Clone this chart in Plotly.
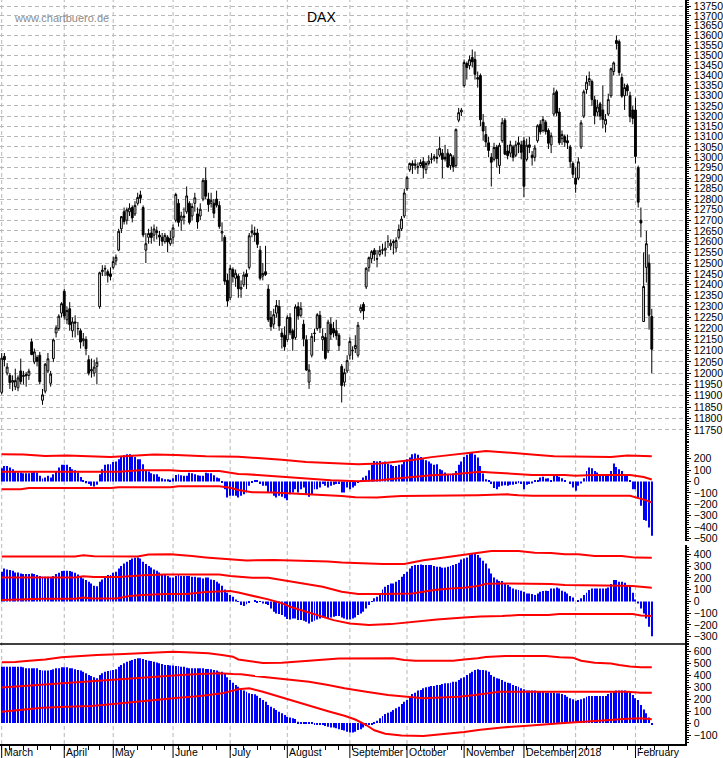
import pandas as pd
import plotly.graph_objects as go

# ---------------- trading calendar ----------------
holidays = ['2017-04-14', '2017-04-17', '2017-05-01', '2017-06-05', '2017-10-31',
            '2017-12-25', '2017-12-26', '2018-01-01']
dates = pd.bdate_range('2017-03-01', '2018-02-09')
dates = dates[~dates.isin(pd.to_datetime(holidays))]
idx = list(range(len(dates)))

month_labels = ['March', 'April', 'May', 'June', 'July', 'August', 'September',
                'October', 'November', 'December', '2018', 'February']

# ---------------- DAX daily OHLC ----------------
open_ = [
    11915, 12075, 12000, 11990, 11960, 11940, 11935, 12010, 11985, 11995,
    11990, 12140, 12050, 12070, 12080, 11880, 11920, 12010, 11955, 12065,
    12180, 12200, 12270,
    12370, 12240, 12290, 12190, 12230, 12200, 12190, 12145, 12150, 12060,
    12010, 12000, 12030, 12300, 12460, 12475, 12460, 12450,
    12480, 12510, 12560, 12660, 12740, 12700, 12740, 12760, 12730, 12780,
    12820, 12760, 12560, 12620, 12640, 12630, 12650, 12630, 12620, 12600,
    12620, 12590,
    12620, 12700, 12780, 12700, 12720, 12740, 12780, 12720, 12780, 12730,
    12720, 12800, 12890, 12800, 12780, 12780, 12800, 12770, 12640, 12620,
    12420,
    12340, 12470, 12430, 12440, 12380, 12400, 12450, 12480, 12650, 12640,
    12640, 12560, 12440, 12460, 12380, 12250, 12220, 12270, 12300, 12180,
    12170,
    12150, 12250, 12190, 12160, 12300, 12260, 12220, 12150, 11960, 12080,
    12180, 12200, 12260, 12150, 12160, 12100, 12220, 12200, 12190, 12170,
    12030, 11960, 12010,
    12080, 12100, 12110, 12080, 12280, 12310, 12390, 12480, 12520, 12560,
    12520, 12540, 12560, 12560, 12600, 12580, 12600, 12570, 12620, 12660,
    12720,
    12850, 12940, 12960, 12960, 12950, 12960, 12980, 12940, 12970, 12990,
    12995, 13000, 13010, 13020, 13000, 13020, 12960, 13000, 12960, 13180,
    13220,
    13350, 13460, 13450, 13490, 13480, 13390, 13400, 13170, 13110, 13070,
    13000, 12990, 13050, 12960, 13080, 13180, 13030, 13020, 13050, 13010,
    13070, 13060,
    13080, 12990, 13060, 13010, 13000, 13080, 13160, 13130, 13170, 13130,
    13060, 13210, 13320, 13220, 13090, 13100, 13080, 13050, 12970,
    12900, 12900, 13050, 13200, 13330, 13370, 13370, 13280, 13220, 13260,
    13230, 13160, 13210, 13300, 13420, 13575, 13570, 13390, 13300, 13350,
    13300, 13230,
    13230, 12950, 12700, 12232, 12480, 12500, 12255,
]
high_ = [
    12090, 12090, 12045, 12000, 11990, 12020, 11990, 12065, 12010, 12005,
    12020, 12155, 12110, 12080, 12095, 11930, 12045, 12090, 12010, 12155,
    12215, 12265, 12320,
    12380, 12300, 12320, 12250, 12260, 12230, 12200, 12180, 12165, 12080,
    12065, 12060, 12070, 12460, 12490, 12490, 12470, 12480,
    12530, 12540, 12660, 12720, 12760, 12760, 12780, 12770, 12790, 12830,
    12840, 12770, 12640, 12660, 12670, 12680, 12670, 12650, 12640, 12640,
    12630, 12650,
    12680, 12830, 12800, 12740, 12760, 12860, 12790, 12780, 12830, 12760,
    12780, 12900, 12950, 12830, 12830, 12800, 12840, 12790, 12690, 12630,
    12450,
    12490, 12480, 12470, 12450, 12420, 12460, 12470, 12640, 12680, 12670,
    12660, 12580, 12500, 12580, 12400, 12280, 12290, 12330, 12330, 12200,
    12210,
    12260, 12270, 12200, 12310, 12320, 12320, 12240, 12170, 12040, 12180,
    12200, 12270, 12280, 12200, 12180, 12240, 12250, 12230, 12240, 12180,
    12040, 12020, 12080,
    12160, 12120, 12170, 12230, 12310, 12320, 12480, 12530, 12560, 12570,
    12560, 12580, 12590, 12600, 12630, 12610, 12610, 12620, 12680, 12720,
    12850,
    12910, 12975, 12985, 12990, 12975, 12990, 13000, 12980, 13010, 13020,
    13015, 13040, 13100, 13040, 13060, 13040, 13020, 13010, 13140, 13240,
    13240,
    13480, 13470, 13500, 13530, 13520, 13420, 13410, 13210, 13150, 13100,
    13020, 13070, 13060, 13070, 13190, 13190, 13060, 13080, 13060, 13080,
    13100, 13080,
    13100, 13090, 13100, 13030, 13060, 13160, 13180, 13200, 13180, 13140,
    13120, 13340, 13330, 13240, 13130, 13110, 13110, 13060, 12980,
    12950, 13000, 13180, 13330, 13400, 13420, 13380, 13300, 13280, 13270,
    13350, 13210, 13310, 13440, 13470, 13600, 13580, 13410, 13360, 13360,
    13320, 13250,
    13290, 12960, 12760, 12550, 12650, 12540, 12290,
]
low_ = [
    11905, 12030, 11990, 11930, 11920, 11925, 11920, 11950, 11950, 11940,
    11970, 12080, 12040, 12030, 11950, 11860, 11910, 12000, 11940, 12050,
    12160, 12190, 12250,
    12240, 12220, 12190, 12160, 12160, 12170, 12110, 12120, 12080, 11990,
    11980, 11985, 11950, 12290, 12440, 12440, 12410, 12420,
    12470, 12490, 12555, 12640, 12680, 12680, 12720, 12690, 12720, 12770,
    12780, 12620, 12500, 12590, 12590, 12600, 12610, 12580, 12580, 12590,
    12550, 12580,
    12590, 12690, 12670, 12650, 12680, 12730, 12680, 12700, 12740, 12660,
    12700, 12790, 12800, 12740, 12760, 12710, 12760, 12660, 12600, 12400,
    12300,
    12330, 12410, 12390, 12340, 12340, 12390, 12380, 12470, 12620, 12600,
    12570, 12420, 12420, 12440, 12230, 12190, 12200, 12250, 12190, 12110,
    12100,
    12140, 12170, 12100, 12150, 12240, 12250, 12120, 12010, 11930, 12070,
    12140, 12190, 12180, 12100, 12060, 12090, 12150, 12160, 12150, 12100,
    11870, 11940, 12000,
    12060, 12060, 12090, 12070, 12270, 12240, 12380, 12460, 12500, 12510,
    12480, 12530, 12540, 12530, 12570, 12560, 12540, 12550, 12610, 12650,
    12710,
    12840, 12930, 12920, 12940, 12920, 12950, 12900, 12920, 12960, 12970,
    12980, 12970, 13000, 12900, 12980, 12950, 12940, 12930, 12950, 13170,
    13200,
    13340, 13380, 13430, 13440, 13380, 13340, 13150, 13080, 13050, 13000,
    12860, 12980, 12950, 12920, 13070, 13010, 12990, 13000, 12980, 13000,
    13020, 12990,
    12810, 12980, 13020, 12960, 12980, 13070, 13110, 13120, 13110, 13040,
    13020, 13200, 13200, 13060, 13060, 13050, 13040, 12950, 12900,
    12830, 12890, 13040, 13190, 13310, 13350, 13250, 13160, 13200, 13180,
    13140, 13120, 13200, 13290, 13400, 13530, 13400, 13290, 13230, 13300,
    13170, 13160,
    12970, 12760, 12620, 12230, 12410, 12195, 12000,
]
close_ = [
    12067, 12060, 12027, 11958, 11967, 11967, 11979, 11963, 11990, 11988,
    12009, 12083, 12095, 12053, 11962, 11904, 12040, 12064, 11996, 12149,
    12203, 12256, 12313,
    12257, 12282, 12218, 12230, 12225, 12200, 12139, 12154, 12109, 12000,
    12016, 12027, 12049, 12455, 12467, 12473, 12443, 12438,
    12507, 12527, 12648, 12717, 12694, 12749, 12757, 12711, 12770, 12808,
    12804, 12631, 12590, 12638, 12619, 12659, 12642, 12621, 12602, 12629,
    12598, 12615,
    12664, 12822, 12690, 12720, 12714, 12815, 12690, 12765, 12806, 12692,
    12752, 12888, 12814, 12774, 12794, 12733, 12771, 12671, 12647, 12416,
    12325,
    12475, 12437, 12453, 12381, 12388, 12445, 12437, 12627, 12641, 12632,
    12587, 12430, 12452, 12447, 12240, 12209, 12263, 12305, 12212, 12162,
    12118,
    12251, 12181, 12154, 12298, 12257, 12292, 12154, 12014, 12014, 12165,
    12178, 12263, 12203, 12165, 12066, 12229, 12174, 12180, 12168, 12123,
    11945, 12002, 12056,
    12142, 12102, 12124, 12215, 12296, 12280, 12476, 12525, 12553, 12540,
    12519, 12559, 12561, 12569, 12600, 12592, 12595, 12605, 12657, 12705,
    12829,
    12902, 12970, 12970, 12968, 12955, 12975, 12949, 12970, 12982, 12992,
    13003, 12995, 13043, 12990, 12992, 12953, 13013, 12953, 13134, 13217,
    13229,
    13465, 13440, 13479, 13468, 13406, 13382, 13182, 13127, 13074, 13033,
    12976, 13047, 12994, 13058, 13168, 13015, 13008, 13060, 13000, 13060,
    13061, 13024,
    12861, 13058, 13048, 12998, 13045, 13153, 13123, 13183, 13125, 13068,
    13104, 13312, 13215, 13070, 13110, 13073, 13070, 12979, 12918,
    12871, 12978, 13167, 13320, 13367, 13385, 13281, 13202, 13245, 13200,
    13183, 13184, 13281, 13434, 13463, 13560, 13415, 13298, 13340, 13324,
    13197, 13189,
    13004, 12785, 12687, 12392, 12590, 12260, 12107,
]

# ---------------- indicator 1 (short) ----------------
osc1 = [
    117, 137, 137, 123, 108, 93, 79, 79, 73, 73,
    73, 79, 90, 79, 50, 26, 35, 50, 35, 64,
    88, 123, 146, 146, 146, 128, 108, 99, 79, 40,
    12, -15, -23, -38, -44, -29, 64, 108, 146, 152,
    152, 172, 175, 196, 216, 231, 239, 239, 225, 216,
    196, 196, 152, 93, 88, 73, 64, 64, 41, 29,
    20, 20, 15, 29, 58, 64, 55, 50, 50, 76,
    73, 64, 55, 50, 50, 76, 73, 73, 55, 35,
    29, -9, -67, -140, -126, -126, -126, -140, -126, -111,
    -96, -38, -9, 12, 6, -23, -38, -38, -96, -96,
    -126, -140, -126, -134, -146, -164, -111, -96, -67, -96,
    -67, -53, -111, -134, -111, -67, -67, -53, -23, -38,
    -53, -38, -29, -23, -23, -96, -96, -53, -67, -53,
    -38, -9, 12, 35, 50, 99, 146, 181, 175, 181,
    166, 175, 158, 146, 137, 137, 146, 152, 187, 196,
    210, 239, 245, 234, 216, 196, 187, 175, 158, 146,
    152, 108, 99, 79, 64, 58, 70, 93, 146, 175,
    216, 234, 254, 254, 234, 210, 137, 70, 20, 6,
    -23, -58, -67, -47, -38, -32, -38, -29, -29, -23,
    -15, -23, -67, -29, -23, -18, 6, 12, 35, 41,
    26, 29, 12, 64, 64, 41, 29, 12, 0, -23,
    -53, -82, -38, -18, 29, 93, 123, 117, 93, 79,
    64, 64, 58, 64, 93, 158, 128, 108, 93, 64,
    64, 12, -67, -67, -146, -213, -339, -345, -403, -476,
]
band1_upper_x = [0, 8, 16, 24, 32, 40, 48, 56, 64, 75, 87, 96, 103, 112, 122, 131, 139, 145,
                 151, 158, 166, 172, 178, 183, 188, 196, 203, 215, 224, 230, 234, 239]
band1_upper = [239, 237, 224, 228, 222, 216, 226, 238, 232, 222, 218, 204, 190, 172, 158, 152,
               158, 172, 188, 214, 234, 252, 268, 260, 248, 234, 222, 216, 216, 229, 224, 222]
band1_mid_x = [0, 43, 47, 51, 62, 66, 80, 84, 87, 90, 96, 103, 111, 121, 131, 139, 145, 151,
               158, 166, 172, 176, 180, 184, 195, 207, 211, 215, 220, 231, 233, 236, 239]
band1_mid = [85, 85, 93, 99, 99, 93, 92, 80, 66, 64, 55, 41, 26, 12, 3, 12, 26, 41,
             55, 64, 76, 85, 80, 73, 58, 56, 50, 54, 58, 58, 50, 40, 18]
band1_lower_x = [0, 7, 10, 40, 43, 62, 65, 80, 84, 87, 92, 100, 107, 113, 119, 125, 130, 138,
                 142, 147, 175, 186, 190, 195, 231, 233, 235, 237, 239]
band1_lower = [-67, -67, -58, -58, -50, -50, -41, -41, -55, -74, -94, -96, -105, -111, -120,
               -127, -138, -140, -134, -127, -120, -113, -120, -126, -126, -138, -152, -166, -184]

# ---------------- indicator 2 (medium) ----------------
osc2 = [
    252, 280, 272, 266, 261, 246, 246, 238, 232, 232,
    232, 238, 232, 224, 215, 210, 210, 210, 204, 215,
    232, 244, 258, 261, 261, 258, 252, 244, 229, 215,
    195, 181, 167, 153, 133, 128, 167, 187, 204, 224,
    224, 244, 252, 280, 300, 323, 337, 351, 365, 371,
    374, 365, 337, 317, 300, 289, 272, 261, 246, 232,
    224, 215, 204, 204, 215, 224, 215, 215, 215, 215,
    210, 210, 204, 204, 195, 204, 204, 187, 181, 167,
    153, 133, 102, 74, 54, 40, 17, -5, -31, -40,
    -25, -11, 0, 6, -11, -3, -17, -23, -31, -60,
    -88, -102, -108, -116, -130, -150, -153, -145, -145, -159,
    -159, -164, -173, -187, -173, -164, -153, -145, -136, -136,
    -145, -136, -130, -125, -125, -136, -145, -153, -153, -145,
    -136, -116, -102, -88, -60, -31, -3, 26, 40, 68,
    102, 125, 139, 153, 153, 167, 181, 210, 232, 252,
    280, 300, 309, 309, 314, 309, 309, 309, 309, 300,
    295, 295, 286, 289, 295, 300, 309, 317, 329, 357,
    365, 374, 394, 402, 402, 394, 370, 346, 323, 280,
    238, 204, 187, 173, 173, 153, 139, 125, 110, 102,
    96, 91, 82, 68, 68, 62, 54, 68, 82, 88,
    91, 88, 110, 110, 119, 110, 91, 82, 68, 45,
    34, 0, 11, 26, 54, 74, 96, 110, 110, 110,
    110, 110, 110, 119, 147, 181, 181, 167, 167, 159,
    139, 130, 74, 17, -17, -60, -102, -145, -215, -295,
]
band2_upper_x = [0, 27, 30, 34, 50, 54, 62, 66, 70, 75, 80, 85, 90, 100, 110, 120, 125, 132,
                 140, 148, 151, 155, 160, 165, 170, 175, 180, 190, 196, 202, 207, 212, 218,
                 228, 233, 239]
band2_upper = [382, 382, 392, 384, 382, 398, 400, 394, 385, 374, 365, 352, 348, 351, 345, 340,
               330, 322, 317, 318, 334, 350, 365, 380, 394, 410, 428, 428, 414, 412, 400, 400,
               386, 385, 372, 371]
band2_mid_x = [0, 27, 30, 34, 43, 47, 52, 60, 80, 84, 88, 92, 98, 103, 111, 118, 125, 131, 140,
               146, 151, 155, 159, 165, 170, 175, 178, 185, 192, 196, 202, 207, 212, 220, 228,
               232, 235, 239]
band2_mid = [204, 204, 214, 207, 207, 215, 222, 229, 229, 216, 210, 201, 200, 181, 153, 125,
             82, 62, 62, 68, 68, 82, 96, 110, 116, 130, 150, 153, 153, 147, 147, 139, 139, 133,
             133, 130, 122, 115]
band2_lower_x = [0, 5, 15, 27, 30, 33, 42, 47, 52, 60, 68, 75, 84, 87, 93, 98, 103, 106, 112,
                 118, 122, 128, 135, 143, 148, 154, 160, 170, 176, 184, 190, 201, 205, 232,
                 235, 239]
band2_lower = [11, 17, 23, 23, 34, 25, 25, 45, 54, 62, 62, 79, 88, 75, 45, 17, -15, -45, -88,
               -130, -159, -187, -201, -193, -181, -173, -153, -136, -128, -125, -116, -116,
               -108, -108, -120, -125]

# ---------------- indicator 3 (long) ----------------
osc3 = [
    474, 474, 474, 474, 474, 474, 474, 474, 469, 460,
    460, 460, 460, 460, 446, 441, 441, 441, 446, 452,
    460, 460, 469, 469, 469, 460, 460, 452, 446, 441,
    432, 418, 404, 396, 385, 376, 404, 418, 432, 438,
    441, 446, 452, 474, 488, 502, 516, 524, 530, 538,
    544, 544, 538, 530, 524, 522, 516, 510, 502, 497,
    488, 488, 485, 483, 480, 480, 474, 474, 466, 460,
    460, 460, 460, 460, 460, 455, 455, 452, 446, 441,
    432, 432, 413, 385, 362, 340, 320, 305, 284, 273,
    264, 250, 245, 242, 230, 210, 194, 180, 152, 138,
    124, 110, 96, 82, 68, 54, 48, 40, 34, 12,
    4, 4, 9, 9, 4, -8, -8, -16, -16, -24,
    -30, -36, -38, -44, -52, -58, -63, -72, -80, -80,
    -72, -58, -52, -36, -24, -16, -8, 4, 20, 40,
    60, 76, 88, 96, 110, 124, 138, 161, 180, 194,
    216, 244, 256, 273, 278, 292, 301, 306, 312, 312,
    320, 320, 329, 334, 334, 340, 348, 348, 362, 376,
    385, 404, 418, 432, 446, 452, 446, 446, 441, 432,
    404, 390, 376, 373, 362, 348, 340, 334, 320, 312,
    306, 292, 284, 273, 273, 273, 273, 264, 264, 264,
    256, 256, 256, 256, 250, 250, 244, 236, 222, 208,
    200, 188, 194, 200, 208, 222, 228, 228, 228, 228,
    228, 228, 228, 244, 256, 264, 273, 273, 273, 273,
    264, 256, 236, 208, 194, 152, 115, 82, 48, -8,
]
band3_upper_x = [0, 5, 9, 16, 22, 28, 35, 45, 56, 63, 70, 76, 81, 85, 87, 90, 96, 103, 108,
                 115, 124, 144, 148, 152, 166, 170, 175, 178, 185, 200, 205, 210, 213, 218,
                 224, 227, 231, 235, 239]
band3_upper = [511, 513, 522, 535, 553, 564, 572, 580, 592, 600, 594, 586, 572, 558, 535, 524,
               505, 507, 516, 530, 542, 544, 530, 524, 524, 535, 544, 556, 564, 564, 553, 550,
               524, 507, 500, 488, 475, 470, 469]
band3_mid_x = [0, 7, 15, 22, 28, 36, 43, 49, 58, 66, 73, 80, 85, 88, 93, 98, 105, 113, 120,
               126, 134, 142, 155, 168, 174, 178, 183, 230, 235, 239]
band3_mid = [300, 311, 325, 334, 348, 359, 368, 382, 395, 404, 412, 418, 412, 410, 395, 384,
             368, 348, 320, 292, 264, 236, 208, 222, 236, 250, 264, 264, 256, 256]
band3_lower_x = [0, 7, 15, 24, 33, 40, 48, 57, 65, 73, 81, 87, 91, 96, 100, 104, 108, 114, 120,
                 126, 130, 134, 137, 141, 147, 155, 162, 170, 176, 184, 192, 200, 208, 214, 222,
                 230, 235, 239]
band3_lower = [96, 110, 130, 138, 144, 158, 177, 194, 214, 228, 250, 285, 292, 264, 236, 208,
               180, 140, 100, 62, 30, -16, -60, -90, -105, -109, -95, -75, -55, -36, -24, -8,
               4, 12, 26, 37, 40, 32]

# ---------------- axis ticks ----------------
main_ticks = list(range(11700, 13751, 50))
main_ticktext = ['' if v == 11700 else str(v) for v in main_ticks]
p1_ticks = [200, 100, 0, -100, -200, -300, -400, -500]
p2_ticks = [400, 300, 200, 100, 0, -100, -200, -300]
p3_ticks = [600, 500, 400, 300, 200, 100, 0, -100]

month_start = [i for i in idx if i == 0 or dates[i].month != dates[i - 1].month]
week_start = [i for i in idx if i == 0 or dates[i].weekday() <= dates[i - 1].weekday()]
week_ticks = week_start + [week_start[-1] + 5, week_start[-1] + 10]

# ---------------- geometry ----------------
W, H = 723, 758
PLOT_W = 688.0
PLOT_H = 744.0
def dom(top_px, bot_px):
    return [1 - bot_px / PLOT_H, 1 - top_px / PLOT_H]

px_per_day = 2.732
x0_px = 1.7
x_range = [-x0_px / px_per_day, (PLOT_W - x0_px) / px_per_day]
def xpaper(i):
    return (i - x_range[0]) / (x_range[1] - x_range[0])

FONT = 'Liberation Sans Narrow, Arial Narrow, Arial, sans-serif'
GRID = '#b8b8b8'
RED = '#ff0000'
BLUE = '#0000ff'

fig = go.Figure()

fig.add_trace(go.Candlestick(
    x=idx, open=open_, high=high_, low=low_, close=close_,
    increasing=dict(line=dict(color='black', width=1), fillcolor='white'),
    decreasing=dict(line=dict(color='black', width=1), fillcolor='black'),
    whiskerwidth=0, xaxis='x', yaxis='y', showlegend=False, hoverinfo='skip'))

for osc, yax, bands in [
    (osc1, 'y2', [(band1_upper_x, band1_upper), (band1_mid_x, band1_mid), (band1_lower_x, band1_lower)]),
    (osc2, 'y3', [(band2_upper_x, band2_upper), (band2_mid_x, band2_mid), (band2_lower_x, band2_lower)]),
    (osc3, 'y4', [(band3_upper_x, band3_upper), (band3_mid_x, band3_mid), (band3_lower_x, band3_lower)]),
]:
    fig.add_trace(go.Bar(x=idx, y=osc, width=0.36, marker=dict(color=BLUE, line=dict(width=0)),
                         xaxis='x', yaxis=yax, showlegend=False, hoverinfo='skip'))
    for bx, by in bands:
        fig.add_trace(go.Scatter(x=bx, y=by, mode='lines', line=dict(color=RED, width=2),
                                 xaxis='x', yaxis=yax, showlegend=False, hoverinfo='skip'))

axis_common = dict(side='right', anchor='x', showline=True, linecolor='black', linewidth=1.5,
                   ticks='outside', ticklen=4, tickcolor='black', tickwidth=1,
                   ticklabelstandoff=1, ticklabeloverflow='allow',
                   zeroline=False, showgrid=False,
                   tickfont=dict(family=FONT, size=10.5, color='black'), fixedrange=True)

fig.update_layout(
    width=W, height=H, margin=dict(l=0, r=int(W - PLOT_W), t=0, b=int(H - PLOT_H)),
    paper_bgcolor='white', plot_bgcolor='white', barmode='overlay', boxgap=0.05,
    showlegend=False,
    xaxis=dict(domain=[0, 1], range=x_range, anchor='y4', showgrid=False, zeroline=False,
               showline=True, linecolor='black', linewidth=1.5, ticks='outside', ticklen=4,
               tickcolor='black', tickvals=week_ticks, showticklabels=False,
               rangeslider=dict(visible=False), fixedrange=True),
    yaxis=dict(axis_common, domain=dom(0, 442), type='log',
               range=[4.068095, 4.139269], tickmode='array', tickvals=main_ticks,
               ticktext=main_ticktext, showgrid=True, gridcolor=GRID, gridwidth=1,
               griddash='4px,3px',
               minor=dict(tickmode='array', tickvals=list(range(11700, 13790, 10)),
                          ticklen=2, tickcolor='black', ticks='outside', showgrid=False)),
    yaxis2=dict(axis_common, domain=dom(442, 541), range=[-522.4, 346.8],
                tickmode='array', tickvals=p1_ticks,
                minor=dict(dtick=20, ticklen=2, tickcolor='black', ticks='outside', showgrid=False)),
    yaxis3=dict(axis_common, domain=dom(545, 644), range=[-361.9, 479.2],
                tickmode='array', tickvals=p2_ticks,
                minor=dict(dtick=20, ticklen=2, tickcolor='black', ticks='outside', showgrid=False)),
    yaxis4=dict(axis_common, domain=dom(644, 744), range=[-175.6, 664.7],
                tickmode='array', tickvals=p3_ticks,
                minor=dict(dtick=20, ticklen=2, tickcolor='black', ticks='outside', showgrid=False)),
)

shapes = []
for m in month_start:
    shapes.append(dict(type='line', xref='x', yref='paper', x0=m, x1=m, y0=0, y1=1,
                       line=dict(color=GRID, width=1, dash='4px,3px'), layer='below'))
    shapes.append(dict(type='line', xref='x', yref='paper', x0=m, x1=m, y0=-(H - PLOT_H) / PLOT_H,
                       y1=0, line=dict(color='black', width=1)))
shapes.append(dict(type='line', xref='paper', yref='paper', x0=0, x1=1,
                   y0=100 / PLOT_H, y1=100 / PLOT_H, line=dict(color='black', width=1.5)))
fig.update_layout(shapes=shapes)

annotations = []
for m, lab in zip(month_start, month_labels):
    annotations.append(dict(x=xpaper(m), y=-7.5 / PLOT_H, xref='paper', yref='paper', text=lab,
                            showarrow=False, xanchor='left', yanchor='middle', xshift=0,
                            font=dict(family=FONT, size=10.5, color='black')))
annotations.append(dict(x=11.7 / PLOT_W, y=1 - 18.3 / PLOT_H, xref='paper', yref='paper',
                        text='www.chartbuero.de', showarrow=False, xanchor='left',
                        yanchor='middle', font=dict(family='Liberation Sans, Arial, sans-serif',
                                                    size=11, color='#8c8c8c')))
annotations.append(dict(x=322.5 / PLOT_W, y=1 - 16.7 / PLOT_H, xref='paper', yref='paper',
                        text='DAX', showarrow=False, xanchor='center', yanchor='middle',
                        font=dict(family='Liberation Sans, Arial, sans-serif', size=14,
                                  color='black')))
fig.update_layout(annotations=annotations)

# the page body has a default 8px margin; remove it so the figure sits at the window origin
fig.write_html('out.html', config={'displayModeBar': False},
               post_script="document.body.style.margin='0px';")
